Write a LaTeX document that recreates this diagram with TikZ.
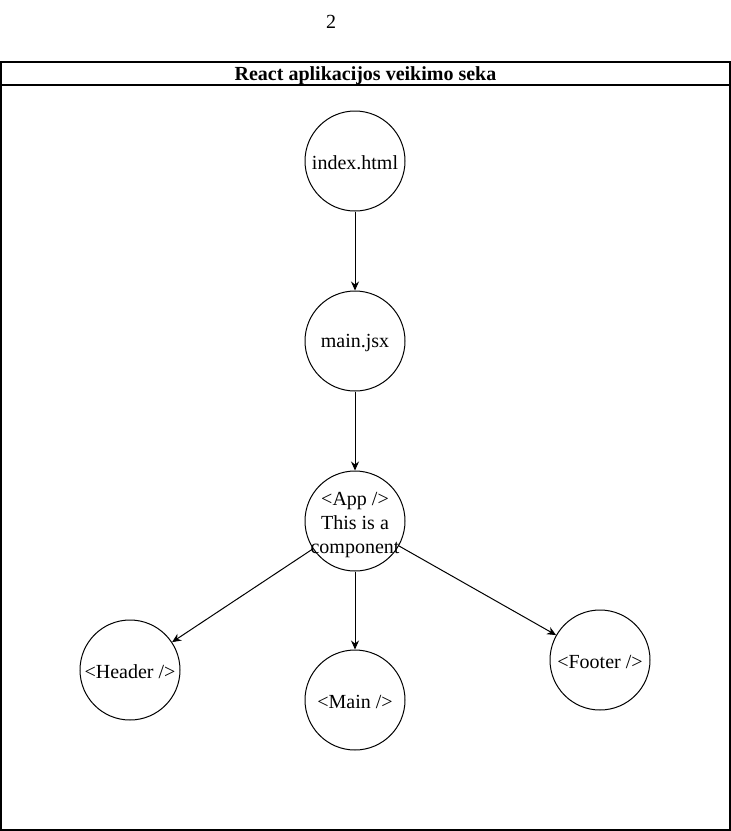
\documentclass[tikz,border=0pt]{standalone}
\usepackage{fontspec}
\setmainfont{Liberation Serif}
\usetikzlibrary{arrows.meta}
\tikzset{
  circnode/.style={draw, circle, minimum size=100pt, inner sep=0pt, line width=1pt},
  lbl/.style={align=center, inner sep=0pt, yshift=-2pt, font=\fontsize{20}{24}\selectfont},
  conn/.style={draw, line width=1pt, -{Stealth[length=9pt, width=8pt]}},
  frame/.style={draw, line width=1.3pt}
}
\begin{document}
\begin{tikzpicture}[x=1pt, y=-1pt]
\useasboundingbox (0,0) rectangle (731,831);
\node[lbl] (pagenum) at (331,20) {2};
\draw[frame] (1,62) rectangle (730,830);
\draw[frame] (1,85) -- (730,85);
\node[lbl, font=\fontsize{20}{24}\selectfont\bfseries] (title) at (365.5,74) {React aplikacijos veikimo seka};
\node[circnode] (index) at (355,161) {};
\node[circnode] (mainjsx) at (355,341) {};
\node[circnode] (app) at (355,521) {};
\node[circnode] (header) at (130,670) {};
\node[circnode] (main) at (355,700) {};
\node[circnode] (footer) at (600,660) {};
\node[lbl] (indext) at (index) {index.html};
\node[lbl] (mainjsxt) at (mainjsx) {main.jsx};
\node[lbl] (appt) at (355,523) {<App />\\This is a\\component};
\node[lbl] (headert) at (header) {<Header />};
\node[lbl] (maint) at (main) {<Main />};
\node[lbl] (footert) at (footer) {<Footer />};
\draw[conn] (index) -- (mainjsx);
\draw[conn] (mainjsx) -- (app);
\draw[conn] (app) -- (header);
\draw[conn] (app) -- (main);
\draw[conn] (app) -- (footer);
\end{tikzpicture}
\end{document}
